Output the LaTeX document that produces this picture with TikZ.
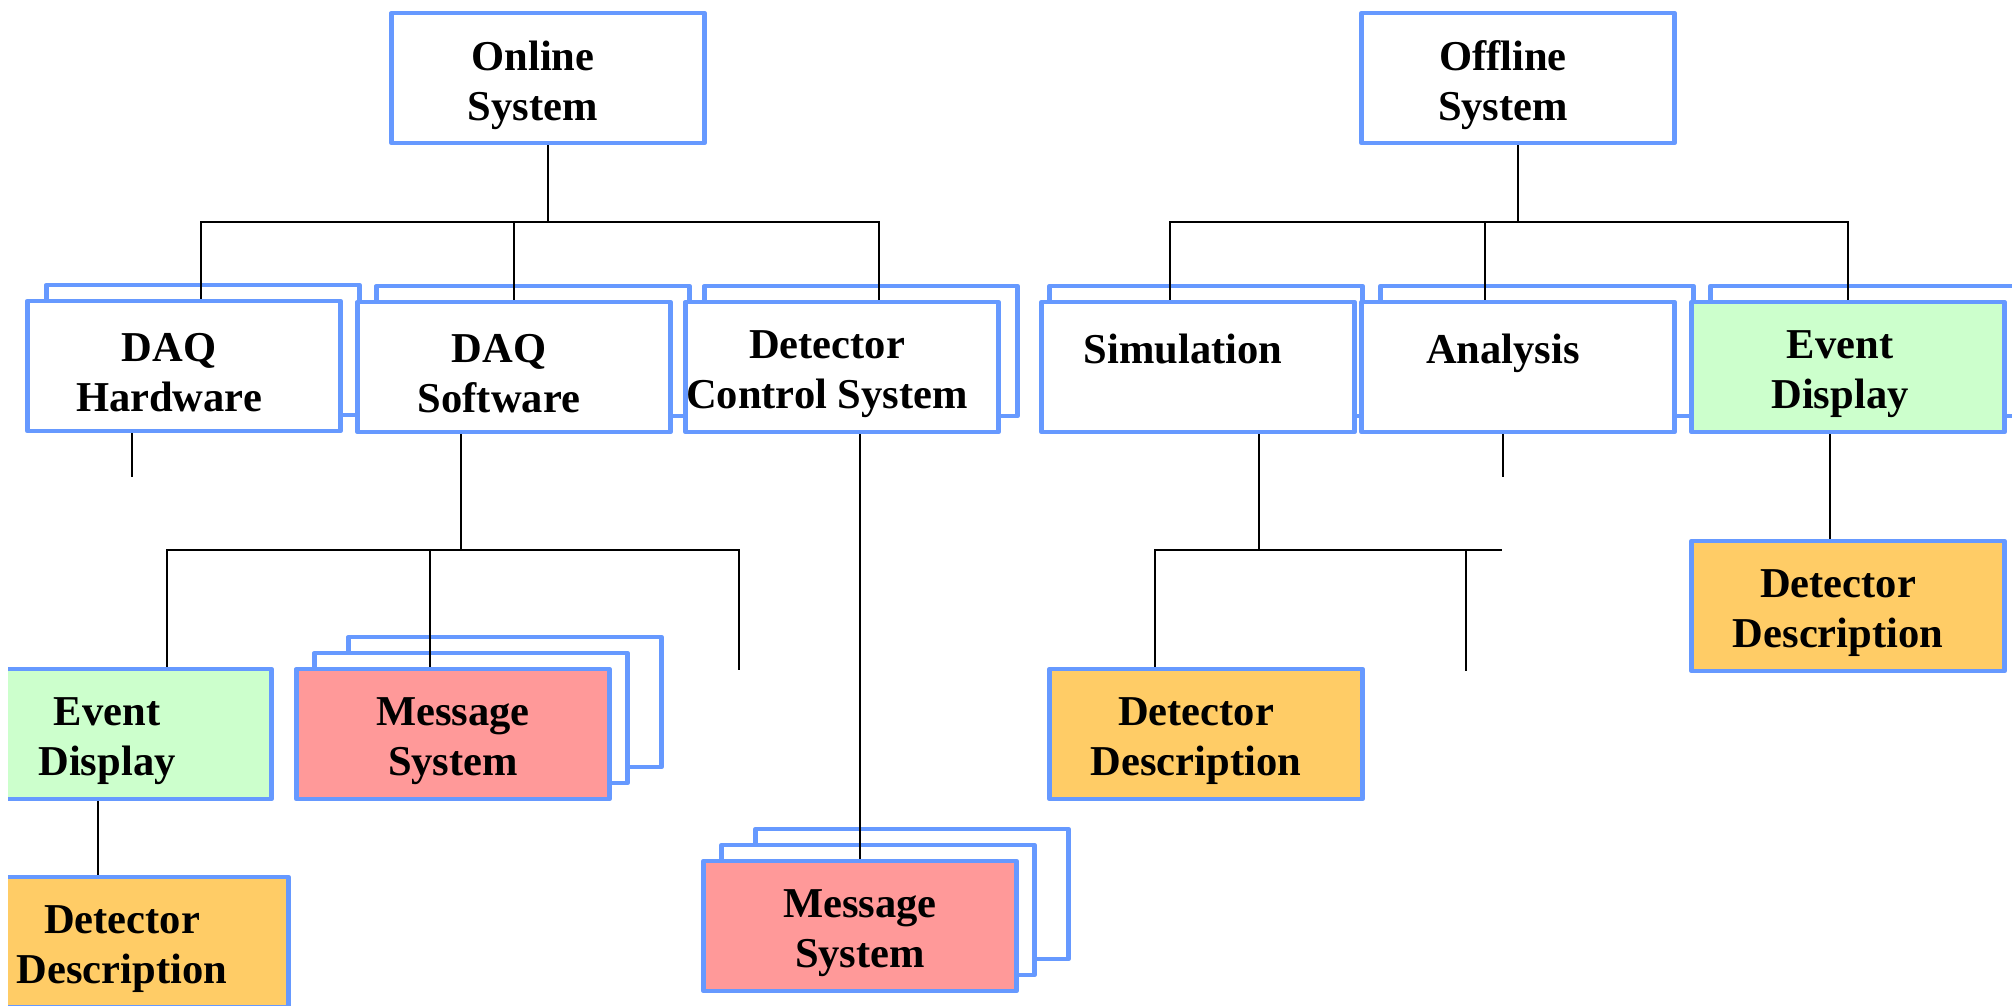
\documentclass[tikz,border=0pt]{standalone}
\usepackage{fontspec}
\setmainfont{Liberation Serif}
\usepackage{tikz}
\usetikzlibrary{calc}
\definecolor{boxblue}{RGB}{102,153,255}
\definecolor{softgreen}{RGB}{204,255,204}
\definecolor{softorange}{RGB}{255,204,102}
\definecolor{softpink}{RGB}{255,153,153}
\tikzset{
  sysbox/.style={rectangle, draw=boxblue, line width=1.3pt, line join=round, fill=white,
                 minimum width=3.13cm, minimum height=1.3cm, inner sep=0pt},
  boxtext/.style={font=\fontsize{12.1}{14.2}\selectfont\bfseries, align=center, yshift=-0.07cm},
  unitbox/.style={sysbox, label={[boxtext, xshift=-0.15cm]center:#1}},
  eventbox/.style={sysbox, fill=softgreen, label={[boxtext, xshift=-0.08cm]center:#1}},
  descbox/.style={sysbox, fill=softorange, label={[boxtext, xshift=-0.1cm]center:#1}},
  msgbox/.style={sysbox, fill=softpink, label={[boxtext]center:#1}},
  link/.style={draw=black, line width=0.6pt},
}

\begin{document}
\begin{tikzpicture}[x=0.01cm, y=-0.01cm]
\useasboundingbox (0,0) rectangle (2012,1005);
\clip (8,0) rectangle (2012,1005);

% top level
\node[unitbox={Online\\System}] (online) at (548,78) {};
\node[unitbox={Offline\\System}] (offline) at (1518,78) {};

% online units
\node[sysbox] (daqhwb) at (203,350) {};
\node[unitbox={DAQ\\Hardware}] (daqhw) at (184,366) {};
\node[sysbox] (daqswb) at (533,351) {};
\node[unitbox={DAQ\\Software}] (daqsw) at (514,367) {};
\node[sysbox] (dcsb) at (861,351) {};
\node[unitbox={Detector\\Control System}] (dcs) at (842,367) {};

% offline units
\node[sysbox] (simb) at (1206,351) {};
\node[unitbox={Simulation\\\mbox{}}] (sim) at (1198,367) {};
\node[sysbox] (anab) at (1537,351) {};
\node[unitbox={Analysis\\\mbox{}}] (ana) at (1518,367) {};
\node[sysbox] (evdb) at (1867,351) {};
\node[eventbox={Event\\Display}] (evd) at (1848,367) {};

% below DAQ software
\node[eventbox={Event\\Display}] (evdon) at (115,734) {};
\node[descbox={Detector\\Description}] (ddon) at (132,942) {};
\node[sysbox] (msgonb) at (505,702) {};
\node[sysbox] (msgonm) at (471,718) {};
\node[msgbox={Message\\System}] (msgon) at (453,734) {};

% below detector control system
\node[sysbox] (msgdcsb) at (912,894) {};
\node[sysbox] (msgdcsm) at (878,910) {};
\node[msgbox={Message\\System}] (msgdcs) at (860,926) {};

% below offline units
\node[descbox={Detector\\Description}] (ddsim) at (1206,734) {};
\node[descbox={Detector\\Description}] (ddevd) at (1848,606) {};

% online tree
\coordinate (onbus) at (548,222);
\draw[link] (online.south) -- (onbus);
\draw[link] ($(daqhw.north)+(17,0)$) |- (onbus) -| ($(dcs.north)+(37,0)$);
\draw[link] (onbus -| daqsw.north) -- (daqsw.north);
\coordinate (hwend) at (132,477);
\draw[link] (hwend |- daqhw.south) -- (hwend);
\coordinate (swbus) at (461,550);
\coordinate (swend) at (739,670);
\draw[link] (swbus |- daqsw.south) -- (swbus);
\draw[link] ($(evdon.north)+(52,0)$) |- (swbus) -| (swend);
\draw[link] ($(msgon.north)+(-23,0)$) |- (swbus);
\coordinate (edstem) at ($(ddon.north)+(-34,0)$);
\draw[link] (edstem |- evdon.south) -- (edstem);
\draw[link] (dcs.south -| msgdcs.north) -- (msgdcs.north);

% offline tree
\coordinate (offbus) at (1518,222);
\draw[link] (offline.south) -- (offbus);
\draw[link] ($(sim.north)+(-28,0)$) |- (offbus) -| (evd.north);
\draw[link] ($(ana.north)+(-33,0)$) |- (offbus);
\coordinate (anaend) at (1503,477);
\draw[link] (anaend |- ana.south) -- (anaend);
\coordinate (simbus) at (1259,550);
\coordinate (simbusend) at (1502,550);
\coordinate (simend) at (1466,671);
\draw[link] (simbus |- sim.south) -- (simbus);
\draw[link] ($(ddsim.north)+(-51,0)$) |- (simbusend);
\draw[link] (simend |- simbus) -- (simend);
\coordinate (evdstem) at ($(ddevd.north)+(-18,0)$);
\draw[link] (evdstem |- evd.south) -- (evdstem);
\end{tikzpicture}
\end{document}
